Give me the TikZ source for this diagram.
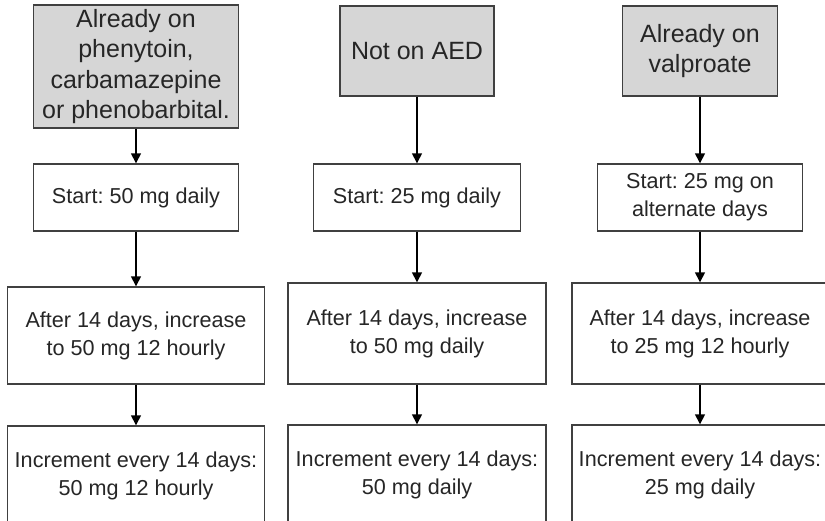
\documentclass[tikz,border=0pt]{standalone}
\usepackage{fontspec}
\setmainfont{Liberation Sans}
\usetikzlibrary{arrows.meta}
\definecolor{boxline}{HTML}{404040}
\definecolor{headfill}{HTML}{D6D6D6}
\tikzset{
  dose/.style={draw=boxline,line width=1.4pt,fill=white,align=center,inner sep=0pt,
    font=\frenchspacing\fontsize{21.6}{28}\selectfont,text=black!85},
  head/.style={dose,fill=headfill,font=\frenchspacing\fontsize{25}{30.5}\selectfont},
  flow/.style={-{Triangle[width=10pt,length=10pt]},line width=1.5pt,black}
}

\begin{document}
\begin{tikzpicture}[x=1pt,y=-1pt]
        \clip (0,0) rectangle (825,521);
        % column 1
        \node[head,minimum width=205,minimum height=123] (head1) at (136,66.5) {Already on\\phenytoin,\\carbamazepine\\or phenobarbital.};
        \node[dose,minimum width=205,minimum height=67] (start1) at (136,197.5) {Start: 50 mg daily};
        \node[dose,minimum width=257,minimum height=97] (after1) at (136,335.5) {After 14 days, increase\\to 50 mg 12 hourly};
        \node[dose,minimum width=257,minimum height=100] (incr1) at (136,476) {Increment every 14 days:\\50 mg 12 hourly};
        % column 2
        \node[head,minimum width=154,minimum height=90] (head2) at (417,51) {Not on AED};
        \node[dose,minimum width=207,minimum height=67] (start2) at (417,197.5) {Start: 25 mg daily};
        \node[dose,minimum width=258,minimum height=101] (after2) at (417,333.5) {After 14 days, increase\\to 50 mg daily};
        \node[dose,minimum width=258,minimum height=100] (incr2) at (417,475) {Increment every 14 days:\\50 mg daily};
        % column 3
        \node[head,minimum width=155,minimum height=90] (head3) at (700,51) {Already on\\valproate};
        \node[dose,minimum width=205,minimum height=67] (start3) at (700,197.5) {Start: 25 mg on\\alternate days};
        \node[dose,minimum width=256,minimum height=101] (after3) at (700,333.5) {After 14 days, increase\\to 25 mg 12 hourly};
        \node[dose,minimum width=256,minimum height=100] (incr3) at (700,475) {Increment every 14 days:\\25 mg daily};
        % arrows down each column
        \foreach \c in {1,2,3} {
          \draw[flow] (head\c) -- (start\c);
          \draw[flow] (start\c) -- (after\c);
          \draw[flow] (after\c) -- (incr\c);
        }
\end{tikzpicture}
\end{document}
